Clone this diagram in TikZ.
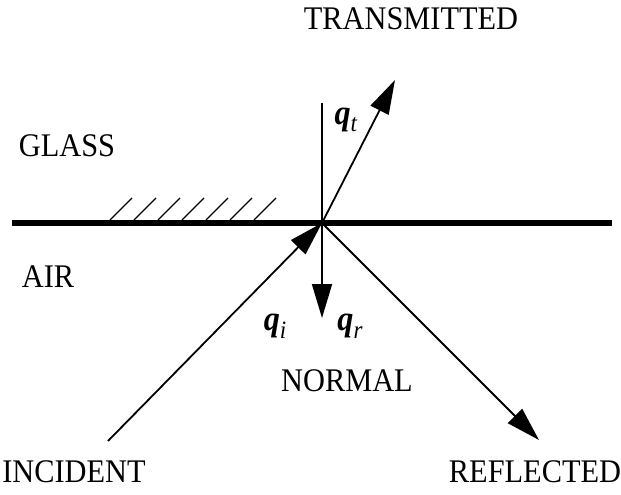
\documentclass[tikz,border=0pt]{standalone}
\usepackage{fontspec}
\setmainfont[FakeStretch=0.92]{Liberation Serif}
\usetikzlibrary{arrows.meta}
\newcommand{\qsym}[1]{\textbf{\textit{q}}\raisebox{-0.22em}{\fontsize{25}{25}\selectfont\textit{#1}}}
\tikzset{
  ray/.style={line width=1.8pt, -{Triangle[length=34pt,width=20pt]}},
  lbl/.style={inner sep=0pt, font=\fontsize{33}{35}\selectfont},
  sym/.style={inner sep=0pt, font=\fontsize{35}{37}\selectfont},
  hatch/.style={line width=1.4pt},
}
\begin{document}
\begin{tikzpicture}[x=1pt,y=-1pt]
\useasboundingbox (0,0) rectangle (621,495);
% surface
\coordinate (sl) at (12,223);
\coordinate (sr) at (612,223);
\draw[line width=5.5pt] (sl) -- (sr);
\coordinate (O) at (322,223);
% hatching
\foreach \k in {0,...,6}{
  \draw[hatch] ({110+24*\k},220) -- ({132+24*\k},198);
}
% normal
\coordinate (ntop) at (322,103);
\coordinate (nbot) at (322,318);
\draw[line width=1.8pt] (ntop) -- (O);
\draw[ray] (O) -- (nbot);
% transmitted
\coordinate (tend) at (395,80);
\draw[ray] (O) -- (tend);
% incident
\coordinate (istart) at (108,441);
\draw[ray] (istart) -- (O);
% reflected
\coordinate (rend) at (539,440);
\draw[ray] (O) -- (rend);
% labels
\node[lbl] (transmitted) at (411,19) {TRANSMITTED};
\node[lbl] (glass) at (67,146) {GLASS};
\node[lbl] (air) at (48,277) {AIR};
\node[lbl] (normal) at (347,381) {NORMAL};
\node[lbl] (incident) at (74,472) {INCIDENT};
\node[lbl] (reflected) at (535,472) {REFLECTED};
\node[sym] (qt) at (346,120) {\qsym{t}};
\node[sym] (qi) at (275,326) {\qsym{i}};
\node[sym] (qr) at (350,326) {\qsym{r}};
\end{tikzpicture}
\end{document}
